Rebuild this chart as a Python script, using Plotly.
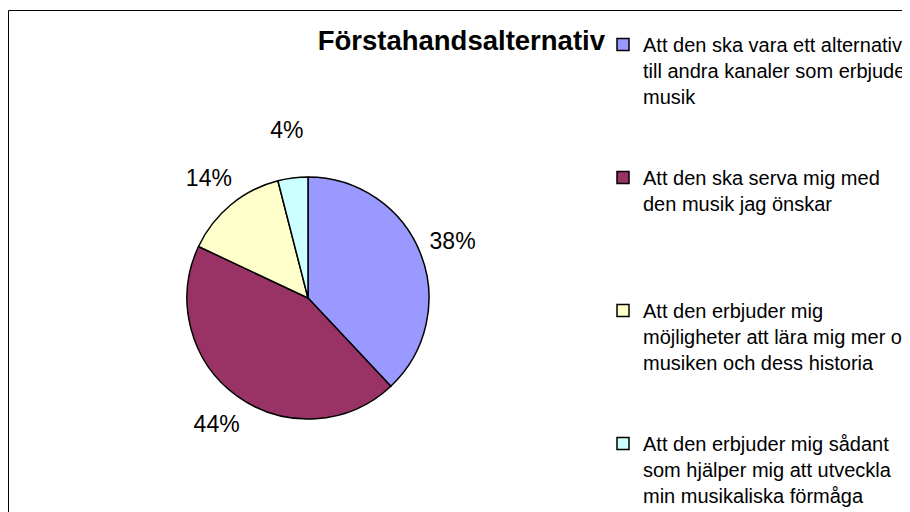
import plotly.graph_objects as go

W, H = 910, 512
OFF = 8  # the page body adds an 8px margin, so aim everything 8px up/left

labels = [
    "Att den ska vara ett alternativ<br>till andra kanaler som erbjuder<br>musik",
    "Att den ska serva mig med<br>den musik jag önskar",
    "Att den erbjuder mig<br>möjligheter att lära mig mer om<br>musiken och dess historia",
    "Att den erbjuder mig sådant<br>som hjälper mig att utveckla<br>min musikaliska förmåga",
]
values = [38, 44, 14, 4]
colors = ["#9999FF", "#993366", "#FFFFCC", "#CCFFFF"]

# pad legend entries with blank lines so the items spread down the page like the original
pad = [2, 3, 2, 0]
legend_labels = [lab + "<br> " * p for lab, p in zip(labels, pad)]


def px(x):
    return (x - OFF) / W


def py(y):
    return 1 - (y - OFF) / H


cx, cy, r = 308, 298, 121
r_lab = 190  # outer ring that carries the percent labels a bit off the pie

fig = go.Figure()
fig.add_trace(go.Pie(
    labels=legend_labels,
    values=values,
    sort=False,
    direction="clockwise",
    rotation=0,
    marker=dict(colors=colors, line=dict(color="black", width=1.5)),
    textinfo="none",
    domain=dict(x=[px(cx - r), px(cx + r)], y=[py(cy + r), py(cy - r)]),
    hoverinfo="skip",
))
# transparent ring, only for the percent labels
fig.add_trace(go.Pie(
    labels=legend_labels,
    values=values,
    sort=False,
    direction="clockwise",
    rotation=0,
    hole=r / r_lab,
    marker=dict(colors=["rgba(0,0,0,0)"] * 4, line=dict(width=0)),
    texttemplate="%{percent:.0%}",
    textposition="inside",
    insidetextorientation="horizontal",
    insidetextfont=dict(size=23, color="black", family="Liberation Sans, Arial"),
    domain=dict(x=[px(cx - r_lab), px(cx + r_lab)], y=[py(cy + r_lab), py(cy - r_lab)]),
    showlegend=False,
    hoverinfo="skip",
))

fig.update_layout(
    width=W, height=H,
    margin=dict(l=0, r=0, t=0, b=0, autoexpand=False),
    paper_bgcolor="white",
    font=dict(family="Liberation Sans, Arial", color="black"),
    uniformtext=dict(minsize=23, mode="show"),
    title=dict(
        text="<b>Förstahandsalternativ</b>",
        font=dict(size=27.5, color="black"),
        x=px(605), xanchor="right",
        y=py(40), yanchor="middle",
    ),
    legend=dict(
        x=px(603), xanchor="left",
        y=py(25), yanchor="top",
        font=dict(size=20, color="black"),
        valign="top",
        bgcolor="rgba(0,0,0,0)",
    ),
    shapes=[dict(
        type="rect", xref="paper", yref="paper",
        x0=px(8.5), x1=px(908.5), y0=-0.05, y1=py(10.5),
        line=dict(color="black", width=1),
        fillcolor="rgba(0,0,0,0)",
        layer="below",
    )],
)

fig.write_html("out.html")
